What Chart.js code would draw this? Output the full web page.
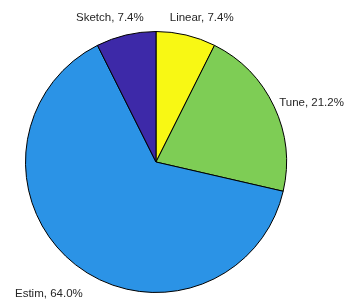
<!DOCTYPE html>
<html>
<head>
<meta charset="utf-8">
<script src="https://cdn.jsdelivr.net/npm/chart.js@4"></script>
<style>
  html, body { margin: 0; padding: 0; background: #ffffff; }
  #wrap { width: 347px; height: 299px; }
</style>
</head>
<body>
<div id="wrap"><canvas id="pie"></canvas></div>
<script>
// Slice names and percentages, clockwise from 12 o'clock
const categories = ['Linear', 'Tune', 'Estim', 'Sketch'];
const percents = [7.4, 21.2, 64.0, 7.4];
const sliceColors = ['#f8f814', '#7ecd55', '#2b93e6', '#3d29a8'];

// Draws "Name, xx.x%" just outside each slice
const outsideLabels = {
    id: 'outsideLabels',
    afterDatasetsDraw(chart) {
        const ctx = chart.ctx;
        const meta = chart.getDatasetMeta(0);
        ctx.save();
        ctx.font = '11.5px "Liberation Sans", Arial, sans-serif';
        ctx.fillStyle = '#262626';
        ctx.textAlign = 'center';
        ctx.textBaseline = 'middle';

        // first pass: place each label by its slice's mid angle
        const boxes = meta.data.map((arc, i) => {
            const mid = (arc.startAngle + arc.endAngle) / 2;
            const dx = Math.cos(mid), dy = Math.sin(mid);
            const text = `${categories[i]}, ${percents[i].toFixed(1)}%`;
            const w = ctx.measureText(text).width;
            const r = arc.outerRadius + 9;
            const x = arc.x + r * dx + dx * w / 2;
            const y = arc.y + r * dy + (dy < 0 ? dy * Math.abs(dy) * 12 : dy * 25) + 2.5;
            return { text, x, y, w };
        });

        // second pass: keep labels on the same row apart
        const minGap = 26;
        for (let i = 0; i < boxes.length; i++) {
            for (let j = i + 1; j < boxes.length; j++) {
                const a = boxes[i], b = boxes[j];
                if (Math.abs(a.y - b.y) > 14) continue;
                const left = a.x < b.x ? a : b, right = a.x < b.x ? b : a;
                const gap = (right.x - right.w / 2) - (left.x + left.w / 2);
                if (gap < minGap) {
                    const push = (minGap - gap) / 2;
                    left.x -= push;
                    right.x += push;
                }
            }
        }

        boxes.forEach(b => ctx.fillText(b.text, b.x, b.y));
        ctx.restore();
    }
};

const ctx = document.getElementById('pie').getContext('2d');
new Chart(ctx, {
    type: 'pie',
    data: {
        labels: categories,
        datasets: [{
            data: percents,
            backgroundColor: sliceColors,
            borderColor: '#000000',
            borderWidth: 1
        }]
    },
    options: {
        responsive: true,
        maintainAspectRatio: false,
        animation: false,
        layout: { padding: { top: 31, bottom: 6, left: 25, right: 60 } },
        plugins: {
            legend: { display: false },
            tooltip: { enabled: false }
        }
    },
    plugins: [outsideLabels]
});
</script>
</body>
</html>
